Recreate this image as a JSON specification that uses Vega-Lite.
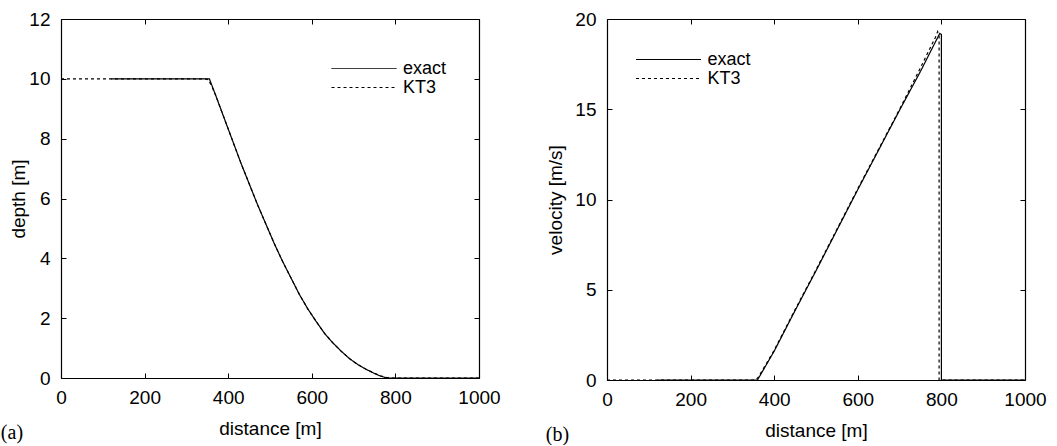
{
  "$schema": "https://vega.github.io/schema/vega-lite/v6.json",
  "background": "white",
  "padding": {"left": 0, "top": 10, "right": 0, "bottom": 0},
  "datasets": {
    "depth": [
      {"x": 120, "y": 10, "series": "exact", "i": 1},
      {"x": 355, "y": 10, "series": "exact", "i": 2},
      {"x": 370, "y": 9.45, "series": "exact", "i": 3},
      {"x": 390, "y": 8.7, "series": "exact", "i": 4},
      {"x": 410, "y": 7.95, "series": "exact", "i": 5},
      {"x": 430, "y": 7.2, "series": "exact", "i": 6},
      {"x": 450, "y": 6.5, "series": "exact", "i": 7},
      {"x": 470, "y": 5.8, "series": "exact", "i": 8},
      {"x": 490, "y": 5.15, "series": "exact", "i": 9},
      {"x": 510, "y": 4.5, "series": "exact", "i": 10},
      {"x": 530, "y": 3.9, "series": "exact", "i": 11},
      {"x": 550, "y": 3.35, "series": "exact", "i": 12},
      {"x": 570, "y": 2.8, "series": "exact", "i": 13},
      {"x": 590, "y": 2.32, "series": "exact", "i": 14},
      {"x": 610, "y": 1.9, "series": "exact", "i": 15},
      {"x": 630, "y": 1.5, "series": "exact", "i": 16},
      {"x": 650, "y": 1.18, "series": "exact", "i": 17},
      {"x": 670, "y": 0.9, "series": "exact", "i": 18},
      {"x": 690, "y": 0.65, "series": "exact", "i": 19},
      {"x": 710, "y": 0.45, "series": "exact", "i": 20},
      {"x": 730, "y": 0.29, "series": "exact", "i": 21},
      {"x": 750, "y": 0.15, "series": "exact", "i": 22},
      {"x": 765, "y": 0.06, "series": "exact", "i": 23},
      {"x": 780, "y": 0, "series": "exact", "i": 24},
      {"x": 1000, "y": 0, "series": "exact", "i": 25},
      {"x": 0, "y": 10, "series": "KT3", "i": 1},
      {"x": 345, "y": 10, "series": "KT3", "i": 2},
      {"x": 352, "y": 9.97, "series": "KT3", "i": 3},
      {"x": 360, "y": 9.78, "series": "KT3", "i": 4},
      {"x": 370, "y": 9.45, "series": "KT3", "i": 5},
      {"x": 390, "y": 8.7, "series": "KT3", "i": 6},
      {"x": 410, "y": 7.95, "series": "KT3", "i": 7},
      {"x": 430, "y": 7.2, "series": "KT3", "i": 8},
      {"x": 450, "y": 6.5, "series": "KT3", "i": 9},
      {"x": 470, "y": 5.8, "series": "KT3", "i": 10},
      {"x": 490, "y": 5.15, "series": "KT3", "i": 11},
      {"x": 510, "y": 4.5, "series": "KT3", "i": 12},
      {"x": 530, "y": 3.9, "series": "KT3", "i": 13},
      {"x": 550, "y": 3.35, "series": "KT3", "i": 14},
      {"x": 570, "y": 2.8, "series": "KT3", "i": 15},
      {"x": 590, "y": 2.32, "series": "KT3", "i": 16},
      {"x": 610, "y": 1.9, "series": "KT3", "i": 17},
      {"x": 630, "y": 1.5, "series": "KT3", "i": 18},
      {"x": 650, "y": 1.18, "series": "KT3", "i": 19},
      {"x": 670, "y": 0.9, "series": "KT3", "i": 20},
      {"x": 690, "y": 0.65, "series": "KT3", "i": 21},
      {"x": 710, "y": 0.45, "series": "KT3", "i": 22},
      {"x": 730, "y": 0.29, "series": "KT3", "i": 23},
      {"x": 750, "y": 0.16, "series": "KT3", "i": 24},
      {"x": 765, "y": 0.07, "series": "KT3", "i": 25},
      {"x": 785, "y": 0, "series": "KT3", "i": 26},
      {"x": 1000, "y": 0, "series": "KT3", "i": 27}
    ],
    "velocity": [
      {"x": 120, "y": 0, "series": "exact", "i": 1},
      {"x": 360, "y": 0, "series": "exact", "i": 2},
      {"x": 400, "y": 1.6, "series": "exact", "i": 3},
      {"x": 450, "y": 3.85, "series": "exact", "i": 4},
      {"x": 500, "y": 6.05, "series": "exact", "i": 5},
      {"x": 550, "y": 8.3, "series": "exact", "i": 6},
      {"x": 600, "y": 10.55, "series": "exact", "i": 7},
      {"x": 650, "y": 12.75, "series": "exact", "i": 8},
      {"x": 700, "y": 14.95, "series": "exact", "i": 9},
      {"x": 750, "y": 17.1, "series": "exact", "i": 10},
      {"x": 796, "y": 19.2, "series": "exact", "i": 11},
      {"x": 800, "y": 19.15, "series": "exact", "i": 12},
      {"x": 800, "y": 0, "series": "exact", "i": 13},
      {"x": 1000, "y": 0, "series": "exact", "i": 14},
      {"x": 0, "y": 0, "series": "KT3", "i": 1},
      {"x": 355, "y": 0, "series": "KT3", "i": 2},
      {"x": 362, "y": 0.15, "series": "KT3", "i": 3},
      {"x": 400, "y": 1.65, "series": "KT3", "i": 4},
      {"x": 450, "y": 3.9, "series": "KT3", "i": 5},
      {"x": 500, "y": 6.1, "series": "KT3", "i": 6},
      {"x": 550, "y": 8.35, "series": "KT3", "i": 7},
      {"x": 600, "y": 10.6, "series": "KT3", "i": 8},
      {"x": 650, "y": 12.8, "series": "KT3", "i": 9},
      {"x": 700, "y": 15.0, "series": "KT3", "i": 10},
      {"x": 750, "y": 17.3, "series": "KT3", "i": 11},
      {"x": 770, "y": 18.25, "series": "KT3", "i": 12},
      {"x": 785, "y": 18.95, "series": "KT3", "i": 13},
      {"x": 791, "y": 19.3, "series": "KT3", "i": 14},
      {"x": 794.5, "y": 19.05, "series": "KT3", "i": 15},
      {"x": 794.5, "y": 0, "series": "KT3", "i": 16},
      {"x": 1000, "y": 0, "series": "KT3", "i": 17}
    ]
  },
  "spacing": 128,
  "bounds": "flush",
  "hconcat": [
    {
      "width": 418,
      "height": 359,
      "data": {"name": "depth"},
      "title": {"text": "(a)", "orient": "bottom", "anchor": "start", "frame": "bounds", "font": "Liberation Serif", "fontSize": 20, "fontWeight": "normal", "color": "black", "offset": -15, "dx": -8.5},
      "layer": [
        {
          "mark": {"type": "line", "color": "black", "strokeWidth": 1.2},
          "encoding": {
            "x": {"field": "x", "type": "quantitative", "scale": {"domain": [0, 1000]}, "axis": {"orient": "bottom", "title": "distance [m]", "format": "d", "values": [0, 200, 400, 600, 800, 1000]}},
            "y": {"field": "y", "type": "quantitative", "scale": {"domain": [0, 12]}, "axis": {"orient": "left", "title": "depth [m]", "values": [0, 2, 4, 6, 8, 10, 12], "titlePadding": 0.5}},
            "strokeDash": {"field": "series", "type": "nominal", "scale": {"domain": ["exact", "KT3"], "range": [[1, 0], [3, 3]]}, "legend": {"orient": "none", "legendX": 270, "legendY": 40}},
            "order": {"field": "i", "type": "quantitative"}
          }
        },
        {
          "mark": {"type": "line", "opacity": 0},
          "encoding": {
            "x": {"field": "x", "type": "quantitative", "scale": {"domain": [0, 1000]}, "axis": {"orient": "top", "title": null, "labels": false, "values": [0, 200, 400, 600, 800, 1000]}},
            "y": {"field": "y", "type": "quantitative", "scale": {"domain": [0, 12]}, "axis": {"orient": "right", "title": null, "labels": false, "values": [0, 2, 4, 6, 8, 10, 12]}}
          }
        }
      ],
      "resolve": {"axis": {"x": "independent", "y": "independent"}}
    },
    {
      "width": 418,
      "height": 361,
      "data": {"name": "velocity"},
      "title": {"text": "(b)", "orient": "bottom", "anchor": "start", "frame": "bounds", "font": "Liberation Serif", "fontSize": 20, "fontWeight": "normal", "color": "black", "offset": -15, "dx": -1},
      "layer": [
        {
          "mark": {"type": "line", "color": "black", "strokeWidth": 1.2},
          "encoding": {
            "x": {"field": "x", "type": "quantitative", "scale": {"domain": [0, 1000]}, "axis": {"orient": "bottom", "title": "distance [m]", "format": "d", "values": [0, 200, 400, 600, 800, 1000]}},
            "y": {"field": "y", "type": "quantitative", "scale": {"domain": [0, 20]}, "axis": {"orient": "left", "title": "velocity [m/s]", "values": [0, 5, 10, 15, 20], "titlePadding": 9}},
            "strokeDash": {"field": "series", "type": "nominal", "scale": {"domain": ["exact", "KT3"], "range": [[1, 0], [3, 3]]}, "legend": {"orient": "none", "legendX": 28.5, "legendY": 31}},
            "order": {"field": "i", "type": "quantitative"}
          }
        },
        {
          "mark": {"type": "line", "opacity": 0},
          "encoding": {
            "x": {"field": "x", "type": "quantitative", "scale": {"domain": [0, 1000]}, "axis": {"orient": "top", "title": null, "labels": false, "values": [0, 200, 400, 600, 800, 1000]}},
            "y": {"field": "y", "type": "quantitative", "scale": {"domain": [0, 20]}, "axis": {"orient": "right", "title": null, "labels": false, "values": [0, 5, 10, 15, 20]}}
          }
        }
      ],
      "resolve": {"axis": {"x": "independent", "y": "independent"}}
    }
  ],
  "resolve": {"legend": {"strokeDash": "independent"}},
  "config": {
    "view": {"stroke": null},
    "font": "Liberation Sans",
    "axis": {
      "labelFont": "Liberation Sans",
      "labelFontSize": 19,
      "labelColor": "black",
      "titleFont": "Liberation Sans",
      "titleFontSize": 19,
      "titleFontWeight": "normal",
      "titleColor": "black",
      "domainColor": "black",
      "domainWidth": 1.2,
      "tickColor": "black",
      "tickSize": -5,
      "tickWidth": 1,
      "grid": false,
      "labelPadding": 16,
      "titlePadding": 12,
      "labelFlush": false,
      "labelOverlap": false
    },
    "axisX": {"labelPadding": 15},
    "legend": {
      "title": null,
      "padding": 0,
      "symbolType": "stroke",
      "symbolSize": 4225,
      "symbolStrokeColor": "black",
      "symbolStrokeWidth": 1,
      "clipHeight": 19,
      "rowPadding": 0,
      "labelOffset": 6,
      "labelFont": "Liberation Sans",
      "labelFontSize": 18,
      "labelColor": "black"
    }
  }
}
